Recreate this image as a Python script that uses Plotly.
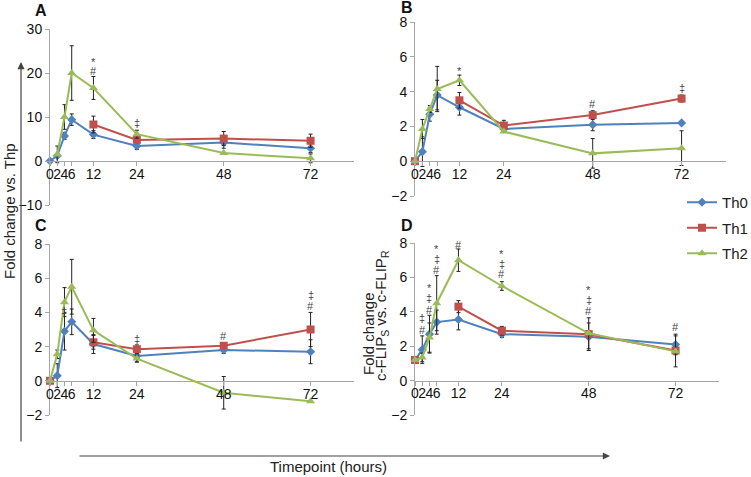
import plotly.graph_objects as go

W, H = 751, 477

hours = [0, 2, 4, 6, 12, 24, 48, 72]
hour_ticks = [0, 2, 4, 6, 12, 24, 48, 72]
series = ['Th0', 'Th1', 'Th2']

# panel A (fold change vs Thp)
a_th0 = [0, 1.2, 5.7, 9.4, 6.0, 3.4, 4.2, 2.9]
a_th0_err = [None, None, 0.8, 1.3, 0.9, 0.8, 1.3, 1.0]
a_th1 = [None, None, None, None, 8.3, 4.8, 5.1, 4.6]
a_th1_err = [None, None, None, None, 1.9, 0.6, 1.6, 1.5]
a_th2 = [None, 1.5, 10.0, 20.0, 16.6, 6.1, 1.8, 0.6]
a_th2_err = [None, 1.9, 2.8, 6.2, 2.6, 0.9, None, 1.0]

# panel B
b_th0 = [0, 0.55, 2.7, 3.8, 3.1, 1.85, 2.1, 2.2]
b_th0_err = [None, 0.85, 0.4, 0.85, 0.45, 0.2, 0.35, None]
b_th1 = [0, None, None, None, 3.5, 2.05, 2.65, 3.6]
b_th1_err = [None, None, None, None, 0.45, 0.3, 0.25, 0.2]
b_th2 = [0, 1.85, 3.0, 4.15, 4.65, 1.7, 0.45, 0.75]
b_th2_err = [None, 0.55, 0.2, 1.3, 0.3, None, 0.85, 1.0]

# panel C
c_th0 = [0, 0.3, 2.9, 3.45, 2.15, 1.45, 1.8, 1.7]
c_th0_err = [None, 0.7, 1.1, 0.75, 0.55, 0.35, 0.2, 0.7]
c_th1 = [0, None, None, None, 2.25, 1.85, 2.05, 3.0]
c_th1_err = [None, None, None, None, 0.4, 0.25, 0.15, 1.0]
c_th2 = [0, 1.55, 4.6, 5.5, 2.95, 1.3, -0.7, -1.2]
c_th2_err = [None, 0.25, 0.85, 1.6, 0.7, 0.2, 0.95, None]

# panel D (c-FLIPs vs c-FLIPr)
d_th0 = [1.2, 1.8, 2.7, 3.4, 3.55, 2.7, 2.55, 2.1]
d_th0_err = [None, 0.8, 1.1, 0.7, 0.6, 0.2, 0.8, 0.6]
d_th1 = [1.2, None, None, None, 4.3, 2.9, 2.7, 1.75]
d_th1_err = [None, None, None, None, 0.35, 0.25, 0.2, 0.2]
d_th2 = [1.2, 1.35, 2.5, 4.5, 7.0, 5.5, 2.75, 1.7]
d_th2_err = [None, 0.25, 0.85, 1.6, 0.65, 0.25, 0.9, 0.9]

# significance marks: (hour, y, symbol)
a_marks = [(12, 22.4, '*'), (12, 20.4, '#'), (24, 8.6, '‡')]
b_marks = [(12, 5.2, '*'), (48, 3.3, '#'), (72, 4.2, '‡')]
c_marks = [(4, 4.1, '‡'), (24, 2.45, '‡'), (48, 2.63, '#'), (72, 5.0, '‡'), (72, 4.4, '#')]
d_marks = [(2, 3.66, '‡'), (2, 2.97, '#'),
           (4, 5.4, '*'), (4, 4.83, '‡'), (4, 4.13, '#'),
           (6, 7.67, '*'), (6, 7.09, '‡'), (6, 6.45, '#'),
           (12, 9.19, '*'), (12, 8.55, '‡'), (12, 7.9, '#'),
           (24, 7.38, '*'), (24, 6.8, '‡'), (24, 6.22, '#'),
           (48, 5.29, '*'), (48, 4.7, '‡'), (48, 4.07, '#'),
           (72, 3.14, '#')]

colors = {'Th0': '#4F81BD', 'Th1': '#C0504D', 'Th2': '#9BBB59'}
symbols = {'Th0': 'diamond', 'Th1': 'square', 'Th2': 'triangle-up'}
msize = {'Th0': 7, 'Th1': 8, 'Th2': 8}

FONT = 'Liberation Sans, Arial, sans-serif'
AXC = '#A6A6A6'


def px(x):
    return x / W


def py(y):
    return 1 - y / H


def label(x, y, text, size=15, angle=0, color='#222'):
    # text placed on the page in pixel terms, centred on (x, y)
    return dict(x=px(x), y=py(y), xref='paper', yref='paper', text=text,
                xanchor='center', yanchor='middle', textangle=angle, showarrow=False,
                font=dict(family=FONT, size=size, color=color))


# panel geometry in pixels: x-left, x-right, y-top, y-bottom, y-range
panels = [
    dict(name='A', data=[(a_th0, a_th0_err), (a_th1, a_th1_err), (a_th2, a_th2_err)],
         marks=a_marks, x0=50, x1=354, ytop=29, ybot=205, yr=[-10, 30], dt=10),
    dict(name='B', data=[(b_th0, b_th0_err), (b_th1, b_th1_err), (b_th2, b_th2_err)],
         marks=b_marks, x0=415, x1=726, ytop=22, ybot=196, yr=[-2, 8], dt=2),
    dict(name='C', data=[(c_th0, c_th0_err), (c_th1, c_th1_err), (c_th2, c_th2_err)],
         marks=c_marks, x0=50, x1=354, ytop=244, ybot=415, yr=[-2, 8], dt=2),
    dict(name='D', data=[(d_th0, d_th0_err), (d_th1, d_th1_err), (d_th2, d_th2_err)],
         marks=d_marks, x0=415, x1=719, ytop=243, ybot=415, yr=[-2, 8], dt=2),
]
letter_pos = {'A': (41, 10), 'B': (407, 8), 'C': (41, 225), 'D': (407, 225)}

fig = go.Figure()
annotations = []
layout_axes = {}

for i, p in enumerate(panels):
    n = '' if i == 0 else str(i + 1)
    xref, yref = 'x' + n, 'y' + n
    for (vals, err), s in zip(p['data'], series):
        fig.add_trace(go.Scatter(
            x=hours, y=vals, xaxis=xref, yaxis=yref,
            name=s, legendgroup=s, showlegend=(i == 0),
            mode='lines+markers', connectgaps=False, cliponaxis=False,
            line=dict(color=colors[s], width=2),
            marker=dict(symbol=symbols[s], size=msize[s], color=colors[s]),
            error_y=dict(type='data', array=err, symmetric=True,
                         color='#222222', thickness=1, width=2),
        ))
    y0, y1 = py(p['ybot']), py(p['ytop'])
    zero = y0 + (0 - p['yr'][0]) / (p['yr'][1] - p['yr'][0]) * (y1 - y0)
    layout_axes['xaxis' + n] = dict(
        domain=[px(p['x0']), px(p['x1'])], range=[0, 84], anchor='free', position=zero,
        tickvals=hour_ticks, ticktext=[str(h) for h in hour_ticks], tickangle=0,
        showline=True, linecolor=AXC, linewidth=1, ticks='outside', ticklen=4,
        tickcolor=AXC, showgrid=False, zeroline=False, ticklabelstandoff=-4,
        tickfont=dict(family=FONT, size=14, color='#111'))
    layout_axes['yaxis' + n] = dict(
        domain=[y0, y1], range=p['yr'], anchor=xref, dtick=p['dt'],
        showline=True, linecolor=AXC, linewidth=1, ticks='outside', ticklen=4,
        tickcolor=AXC, showgrid=False, zeroline=False,
        tickfont=dict(family=FONT, size=14, color='#111'))
    for hx, hy, sym in p['marks']:
        annotations.append(dict(x=hx, y=hy, xref=xref, yref=yref, text=sym,
                                xanchor='center', yanchor='middle', showarrow=False,
                                font=dict(family=FONT, size=11, color='#444')))
    lx, ly = letter_pos[p['name']]
    annotations.append(label(lx, ly, '<b>%s</b>' % p['name'], size=16, color='#111'))

# outer arrows and shared titles
annotations += [
    dict(x=px(21), y=py(62), xref='paper', yref='paper', ax=0, ay=381, text='',
         showarrow=True, arrowhead=2, arrowsize=1.2, arrowwidth=1.2, arrowcolor='#444'),
    dict(x=px(610), y=py(456), xref='paper', yref='paper', ax=-532, ay=0, text='',
         showarrow=True, arrowhead=2, arrowsize=1.2, arrowwidth=1.2, arrowcolor='#444'),
    label(9, 211, 'Fold change vs. Thp', angle=-90),
    label(328, 466, 'Timepoint (hours)'),
    label(368, 334, 'Fold change', angle=-90),
    label(381, 315, 'c-FLIP<sub>S</sub> vs. c-FLIP<sub>R</sub>', angle=-90),
]

fig.update_layout(
    width=W, height=H, margin=dict(l=0, r=0, t=0, b=0, autoexpand=False),
    paper_bgcolor='white', plot_bgcolor='white',
    font=dict(family=FONT, size=14, color='#222'),
    annotations=annotations,
    legend=dict(x=px(682), y=py(186), xanchor='left', yanchor='top',
                font=dict(family=FONT, size=15, color='#222'),
                bgcolor='rgba(0,0,0,0)', itemwidth=30, tracegroupgap=3),
    **layout_axes,
)

# page body has a default 8px margin; drop it so the figure sits at the corner
fig.write_html('out.html', config={'displayModeBar': False},
               post_script="document.body.style.margin='0px';")
